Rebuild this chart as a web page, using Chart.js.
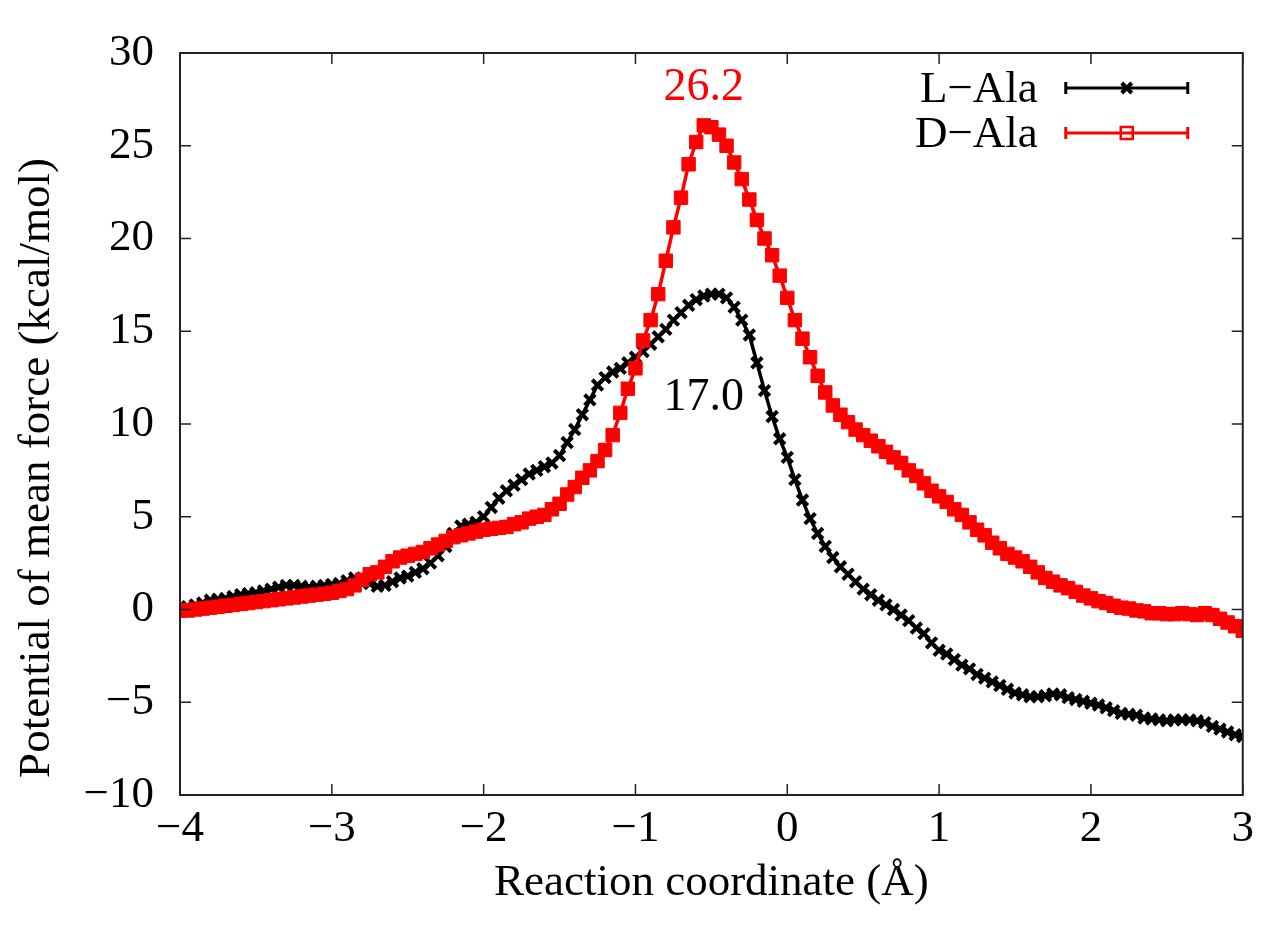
<!DOCTYPE html>
<html>
<head>
<meta charset="utf-8">
<script src="https://cdn.jsdelivr.net/npm/chart.js@4.4.0/dist/chart.umd.min.js"></script>
<style>
    html, body { margin: 0; padding: 0; background: #fff; }
    #wrap { width: 1261px; height: 929px; }
</style>
</head>
<body>
<div id="wrap"><canvas id="pmfChart"></canvas></div>
<script>
// 反应坐标 (Å)
const coords = [
    -4.00, -3.95, -3.90, -3.85, -3.80, -3.75, -3.70, -3.65, -3.60, -3.55,
    -3.50, -3.45, -3.40, -3.35, -3.30, -3.25, -3.20, -3.15, -3.10, -3.05,
    -3.00, -2.95, -2.90, -2.85, -2.80, -2.75, -2.70, -2.65, -2.60, -2.55,
    -2.50, -2.45, -2.40, -2.35, -2.30, -2.25, -2.20, -2.15, -2.10, -2.05,
    -2.00, -1.95, -1.90, -1.85, -1.80, -1.75, -1.70, -1.65, -1.60, -1.55,
    -1.50, -1.45, -1.40, -1.35, -1.30, -1.25, -1.20, -1.15, -1.10, -1.05,
    -1.00, -0.95, -0.90, -0.85, -0.80, -0.75, -0.70, -0.65, -0.60, -0.55,
    -0.50, -0.45, -0.40, -0.35, -0.30, -0.25, -0.20, -0.15, -0.10, -0.05,
    0.00, 0.05, 0.10, 0.15, 0.20, 0.25, 0.30, 0.35, 0.40, 0.45,
    0.50, 0.55, 0.60, 0.65, 0.70, 0.75, 0.80, 0.85, 0.90, 0.95,
    1.00, 1.05, 1.10, 1.15, 1.20, 1.25, 1.30, 1.35, 1.40, 1.45,
    1.50, 1.55, 1.60, 1.65, 1.70, 1.75, 1.80, 1.85, 1.90, 1.95,
    2.00, 2.05, 2.10, 2.15, 2.20, 2.25, 2.30, 2.35, 2.40, 2.45,
    2.50, 2.55, 2.60, 2.65, 2.70, 2.75, 2.80, 2.85, 2.90, 2.95,
    3.00
];

// L-Ala 平均力势 (kcal/mol)
const lAla = [
    0.1, 0.15, 0.25, 0.35, 0.5, 0.55, 0.6, 0.7, 0.8, 0.85,
    0.9, 1.0, 1.1, 1.2, 1.3, 1.3, 1.25, 1.2, 1.25, 1.3,
    1.35, 1.4, 1.55, 1.7, 1.6, 1.4, 1.25, 1.3, 1.5, 1.7,
    1.8, 2.0, 2.2, 2.5, 2.9, 3.4, 4.1, 4.5, 4.6, 4.7,
    5.0, 5.5, 6.0, 6.4, 6.7, 7.0, 7.3, 7.5, 7.7, 7.9,
    8.3, 9.0, 9.7, 10.5, 11.3, 12.1, 12.5, 12.8, 13.0, 13.3,
    13.6, 13.9, 14.3, 14.7, 15.1, 15.6, 16.0, 16.4, 16.7, 16.9,
    17.0, 17.0, 16.8, 16.3, 15.6, 14.8, 13.3, 11.8, 10.4, 9.2,
    8.2, 7.0, 5.9, 4.9, 4.1, 3.4, 2.8, 2.3, 1.9, 1.5,
    1.1, 0.8, 0.5, 0.25, 0.0, -0.3, -0.6, -1.0, -1.3, -1.8,
    -2.2, -2.4, -2.7, -3.0, -3.2, -3.5, -3.7, -3.9, -4.1, -4.3,
    -4.5, -4.6, -4.7, -4.7, -4.65, -4.55, -4.6, -4.75, -4.85, -4.95,
    -5.05, -5.15, -5.3, -5.45, -5.6, -5.65, -5.7, -5.85, -5.9, -5.95,
    -6.0, -5.95, -5.95, -5.95, -6.0, -6.1, -6.3, -6.45, -6.6, -6.75,
    -6.85
];

// D-Ala 平均力势 (kcal/mol)
const dAla = [
    -0.05, -0.05, 0.0, 0.05, 0.1, 0.15, 0.2, 0.25, 0.3, 0.35,
    0.4, 0.45, 0.5, 0.55, 0.6, 0.65, 0.7, 0.75, 0.8, 0.85,
    0.9, 1.0, 1.1, 1.3, 1.6, 1.9, 2.0, 2.3, 2.6, 2.8,
    2.9, 3.0, 3.1, 3.3, 3.5, 3.7, 3.9, 4.0, 4.1, 4.2,
    4.3, 4.35, 4.4, 4.45, 4.6, 4.7, 4.9, 5.0, 5.1, 5.4,
    5.7, 6.2, 6.6, 7.1, 7.5, 8.0, 8.6, 9.4, 10.6, 11.9,
    13.0, 14.5, 15.6, 17.0, 18.8, 20.6, 22.2, 24.0, 25.2, 26.1,
    26.0, 25.6, 25.0, 24.1, 23.2, 22.1, 21.0, 20.0, 19.1, 18.0,
    16.8, 15.6, 14.6, 13.6, 12.6, 11.7, 11.0, 10.5, 10.1, 9.7,
    9.4, 9.1, 8.8, 8.5, 8.2, 7.9, 7.5, 7.2, 6.8, 6.4,
    6.1, 5.8, 5.4, 5.1, 4.7, 4.3, 4.0, 3.6, 3.3, 3.0,
    2.8, 2.6, 2.3, 2.0, 1.7, 1.5, 1.3, 1.15, 0.95, 0.75,
    0.6, 0.45, 0.35, 0.2, 0.1, 0.05, -0.05, -0.1, -0.2, -0.2,
    -0.25, -0.25, -0.2, -0.25, -0.3, -0.2, -0.3, -0.5, -0.7, -0.9,
    -1.15
];

const xTicks = [-4, -3, -2, -1, 0, 1, 2, 3];
const yTicks = [-10, -5, 0, 5, 10, 15, 20, 25, 30];
const seriesNames = ['L\u2212Ala', 'D\u2212Ala'];
const barriers = { peakX: -0.55, lAla: 17.0, dAla: 26.2 };

const SERIF = '"Liberation Serif", "DejaVu Serif", serif';
const RED = '#ff0000';
const minus = v => String(v).replace('-', '\u2212');

// 边框、向内刻度、标注、图例、纵轴标题
const gnuplotLook = {
    id: 'gnuplotLook',
    afterDatasetsDraw(chart) {
        const { ctx, chartArea: a } = chart;
        const xs = chart.scales.x, ys = chart.scales.y;
        ctx.save();

        // 边框
        ctx.strokeStyle = '#222';
        ctx.lineWidth = 2;
        ctx.strokeRect(a.left, a.top, a.right - a.left, a.bottom - a.top);

        // 刻度线（四边向内）
        ctx.lineWidth = 1.5;
        ctx.beginPath();
        xTicks.forEach(v => {
            const px = xs.getPixelForValue(v);
            ctx.moveTo(px, a.bottom); ctx.lineTo(px, a.bottom - 11);
            ctx.moveTo(px, a.top); ctx.lineTo(px, a.top + 11);
        });
        yTicks.forEach(v => {
            const py = ys.getPixelForValue(v);
            ctx.moveTo(a.left, py); ctx.lineTo(a.left + 11, py);
            ctx.moveTo(a.right, py); ctx.lineTo(a.right - 11, py);
        });
        ctx.stroke();

        // 能垒标注
        ctx.font = '46px ' + SERIF;
        ctx.textAlign = 'center';
        ctx.textBaseline = 'middle';
        const px = xs.getPixelForValue(barriers.peakX);
        ctx.fillStyle = RED;
        ctx.fillText(barriers.dAla.toFixed(1), px, ys.getPixelForValue(barriers.dAla) - 36);
        ctx.fillStyle = '#000';
        ctx.fillText(barriers.lAla.toFixed(1), px, ys.getPixelForValue(barriers.lAla) + 104);

        // 图例
        ctx.font = '45px ' + SERIF;
        ctx.textAlign = 'right';
        const colors = ['#000', RED];
        seriesNames.forEach((name, i) => {
            const yy = a.top + 35 + i * 45;
            const x0 = a.right - 177, x1 = a.right - 55, xm = (x0 + x1) / 2;
            ctx.fillStyle = '#000';
            ctx.fillText(name, a.right - 205, yy + 2);
            ctx.strokeStyle = colors[i];
            ctx.lineWidth = 3;
            ctx.beginPath();
            ctx.moveTo(x0, yy); ctx.lineTo(x1, yy);
            ctx.moveTo(x0, yy - 6); ctx.lineTo(x0, yy + 6);
            ctx.moveTo(x1, yy - 6); ctx.lineTo(x1, yy + 6);
            ctx.stroke();
            if (i === 0) {
                ctx.lineWidth = 4;
                ctx.beginPath();
                ctx.moveTo(xm - 5, yy - 5); ctx.lineTo(xm + 5, yy + 5);
                ctx.moveTo(xm - 5, yy + 5); ctx.lineTo(xm + 5, yy - 5);
                ctx.stroke();
            } else {
                ctx.lineWidth = 2.5;
                ctx.strokeRect(xm - 6, yy - 6, 12, 12);
            }
        });

        // 纵轴标题
        ctx.fillStyle = '#000';
        ctx.font = '45px ' + SERIF;
        ctx.textAlign = 'center';
        ctx.translate(37, 468);
        ctx.rotate(-Math.PI / 2);
        ctx.fillText('Potential of mean force (kcal/mol)', 0, 0);

        ctx.restore();
    }
};

const ctx = document.getElementById('pmfChart').getContext('2d');
new Chart(ctx, {
    type: 'line',
    data: {
        datasets: [
            {
                label: seriesNames[0],
                data: coords.map((x, i) => ({ x: x, y: lAla[i] })),
                borderColor: '#000',
                backgroundColor: '#000',
                borderWidth: 3.5,
                pointStyle: 'crossRot',
                pointRadius: 7.5,
                pointBorderWidth: 4,
                pointBorderColor: '#000',
                tension: 0,
                order: 1,
            },
            {
                label: seriesNames[1],
                data: coords.map((x, i) => ({ x: x, y: dAla[i] })),
                borderColor: RED,
                backgroundColor: RED,
                borderWidth: 3.5,
                pointStyle: 'rect',
                pointRadius: 9.5,
                pointBorderWidth: 1,
                pointBorderColor: RED,
                pointBackgroundColor: RED,
                tension: 0,
                order: 0,
            },
        ],
    },
    options: {
        responsive: true,
        maintainAspectRatio: false,
        animation: false,
        events: [],
        layout: { padding: { left: 0, right: 16, top: 32, bottom: 0 } },
        plugins: {
            legend: { display: false },
            tooltip: { enabled: false },
        },
        scales: {
            x: {
                type: 'linear',
                min: -4,
                max: 3,
                afterFit: s => { s.height = 134; },
                afterBuildTicks: s => { s.ticks = xTicks.map(v => ({ value: v })); },
                grid: { display: false, drawTicks: false },
                border: { display: false },
                ticks: {
                    color: '#000',
                    font: { family: SERIF, size: 45 },
                    padding: 7,
                    maxRotation: 0,
                    autoSkip: false,
                    callback: minus,
                },
                title: {
                    display: true,
                    text: 'Reaction coordinate (\u00c5)',
                    color: '#000',
                    font: { family: SERIF, size: 45 },
                    padding: { top: 0, bottom: 19 },
                },
            },
            y: {
                min: -10,
                max: 30,
                afterFit: s => { s.width = 180; },
                afterBuildTicks: s => { s.ticks = yTicks.map(v => ({ value: v })); },
                grid: { display: false, drawTicks: false },
                border: { display: false },
                ticks: {
                    color: '#000',
                    font: { family: SERIF, size: 45 },
                    padding: 26,
                    autoSkip: false,
                    callback: minus,
                },
            },
        },
    },
    plugins: [gnuplotLook],
});
</script>
</body>
</html>
